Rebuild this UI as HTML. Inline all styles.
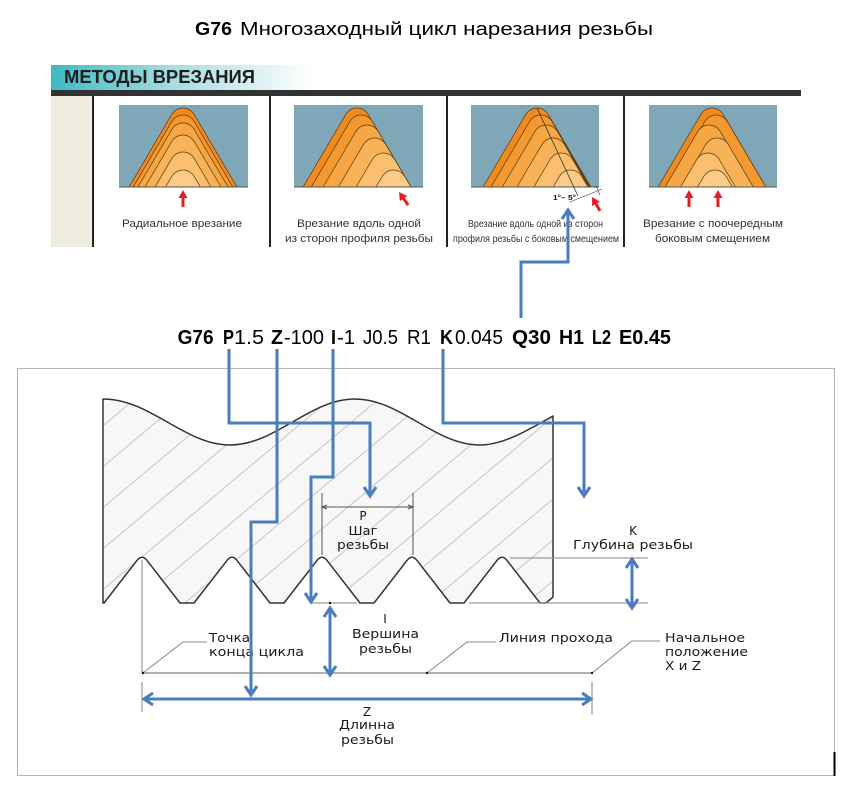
<!DOCTYPE html>
<html><head><meta charset="utf-8"><style>
html,body{margin:0;padding:0;background:#fff;}
svg{display:block;}
</style></head><body>
<svg width="868" height="795" viewBox="0 0 868 795" xmlns="http://www.w3.org/2000/svg" xmlns:xlink="http://www.w3.org/1999/xlink">
<defs>
 <linearGradient id="tg" x1="0" x2="1" y1="0" y2="0">
  <stop offset="0" stop-color="#3dbac3"/><stop offset="0.45" stop-color="#a2dbe0"/><stop offset="1" stop-color="#ffffff"/>
 </linearGradient>
 <path id="h" d="M-90 153 L-11.2 19 A13 13 0 0 1 11.2 19 L90 153 Z"/>
 <clipPath id="c1"><rect x="119" y="105" width="129" height="82"/></clipPath>
 <clipPath id="c2"><rect x="294" y="105" width="129" height="82"/></clipPath>
 <clipPath id="c3"><rect x="471" y="105" width="128" height="82"/></clipPath>
 <clipPath id="c4"><rect x="649" y="105" width="128" height="82"/></clipPath>
 <pattern id="hatch" patternUnits="userSpaceOnUse" width="20" height="31.4" patternTransform="rotate(-40) translate(0,15)">
  <rect x="0" y="0" width="20" height="1" fill="#c6c6c6"/>
 </pattern>
 <path id="bodyp" d="M 103 399 C 150.5 399 184.5 445 230 445 C 275.5 445 309.5 399 355 399 C 400.5 399 434.5 445 480 445 C 504 445 529 429.4 553 416 L 553 597 L 546 603 L 540 603 L 507 560.4 Q 502 554 497 560.4 L 464 603 L 450 603 L 417 560.4 Q 412 554 407 560.4 L 374 603 L 360 603 L 327 560.4 Q 322 554 317 560.4 L 284 603 L 270 603 L 237 560.4 Q 232 554 227 560.4 L 194 603 L 180 603 L 147 560.4 Q 142 554 137 560.4 L 104 603 L 103 603 Z"/>
</defs>

<rect width="868" height="795" fill="#fff"/>

<!-- Title -->
<text x="195" y="35" font-family="Liberation Sans, sans-serif" font-size="18" font-weight="bold" fill="#000" textLength="37" lengthAdjust="spacingAndGlyphs">G76</text>
<text x="240" y="35" font-family="Liberation Sans, sans-serif" font-size="18" fill="#000" textLength="413" lengthAdjust="spacingAndGlyphs">Многозаходный цикл нарезания резьбы</text>

<!-- Top panel -->
<rect x="51" y="65" width="260" height="25" fill="url(#tg)"/>
<text x="64" y="83" font-family="Liberation Sans, sans-serif" font-size="18" font-weight="bold" fill="#1e1e1e" textLength="191" lengthAdjust="spacingAndGlyphs">МЕТОДЫ ВРЕЗАНИЯ</text>
<rect x="51" y="90" width="750" height="6" fill="#333"/>
<rect x="51" y="96" width="42" height="151" fill="#f0ebe1"/>
<g stroke="#222" stroke-width="2">
 <line x1="93" y1="96" x2="93" y2="247"/>
 <line x1="270" y1="96" x2="270" y2="247"/>
 <line x1="447" y1="96" x2="447" y2="247"/>
 <line x1="624" y1="96" x2="624" y2="247"/>
</g>

<g fill="#7fa7b8">
 <rect x="119" y="105" width="129" height="82"/>
 <rect x="294" y="105" width="129" height="82"/>
 <rect x="471" y="105" width="128" height="82"/>
 <rect x="649" y="105" width="128" height="82"/>
</g>

<g stroke="#5b3b12" stroke-width="0.7">
 <g clip-path="url(#c1)">
  <use xlink:href="#h" transform="translate(183,95.4)" fill="#ef8a1f"/>
  <use xlink:href="#h" transform="translate(183,102.4)" fill="#f4992f"/>
  <use xlink:href="#h" transform="translate(183,110.4)" fill="#f6a743"/>
  <use xlink:href="#h" transform="translate(183,122.4)" fill="#f8b358"/>
  <use xlink:href="#h" transform="translate(183,139.4)" fill="#fabf6f"/>
  <use xlink:href="#h" transform="translate(183,157.4)" fill="#fccb88"/>
 </g>
 <g clip-path="url(#c2)">
  <use xlink:href="#h" transform="translate(357,95.4)" fill="#ef8a1f"/>
  <use xlink:href="#h" transform="translate(361.1,102.4)" fill="#f4992f"/>
  <use xlink:href="#h" transform="translate(367,112.4)" fill="#f6a743"/>
  <use xlink:href="#h" transform="translate(374.6,125.4)" fill="#f8b358"/>
  <use xlink:href="#h" transform="translate(383.5,140.4)" fill="#fabf6f"/>
  <use xlink:href="#h" transform="translate(393.5,157.4)" fill="#fccb88"/>
 </g>
 <g clip-path="url(#c3)">
  <use xlink:href="#h" transform="translate(537,95.4)" fill="#ef8a1f"/>
  <use xlink:href="#h" transform="translate(540.8,102.4)" fill="#f4992f"/>
  <use xlink:href="#h" transform="translate(546.2,112.4)" fill="#f6a743"/>
  <use xlink:href="#h" transform="translate(553.2,125.4)" fill="#f8b358"/>
  <use xlink:href="#h" transform="translate(561.3,140.4)" fill="#fabf6f"/>
  <use xlink:href="#h" transform="translate(570.5,157.4)" fill="#fccb88"/>
 </g>
 <g clip-path="url(#c4)">
  <use xlink:href="#h" transform="translate(712,95.4)" fill="#ef8a1f"/>
  <use xlink:href="#h" transform="translate(716,102.4)" fill="#f4992f"/>
  <use xlink:href="#h" transform="translate(709,112.4)" fill="#f6a743"/>
  <use xlink:href="#h" transform="translate(717,125.4)" fill="#f8b358"/>
  <use xlink:href="#h" transform="translate(708,140.4)" fill="#fabf6f"/>
  <use xlink:href="#h" transform="translate(715,157.4)" fill="#fccb88"/>
 </g>
</g>
<g stroke="#555" stroke-width="1">
 <line x1="119" y1="187" x2="248" y2="187"/>
 <line x1="294" y1="187" x2="423" y2="187"/>
 <line x1="471" y1="187" x2="599" y2="187"/>
 <line x1="649" y1="187" x2="777" y2="187"/>
</g>

<!-- box 3 annotation -->
<line x1="537" y1="108" x2="578" y2="196" stroke="#333" stroke-width="0.8"/>
<line x1="570" y1="202" x2="602" y2="189" stroke="#333" stroke-width="0.6"/>
<line x1="596" y1="186" x2="600" y2="195" stroke="#333" stroke-width="0.6"/>
<text x="553" y="200" font-family="Liberation Sans, sans-serif" font-size="7.5" font-weight="bold" fill="#111" textLength="23" lengthAdjust="spacingAndGlyphs">1°– 5°</text>

<!-- red arrows -->
<g fill="#e31e24">
 <g transform="translate(183,190)"><polygon points="-4.5,8 0,0 4.5,8"/><rect x="-1.5" y="7" width="3" height="10"/></g>
 <g transform="translate(399,192) rotate(-35)"><polygon points="-4.5,8 0,0 4.5,8"/><rect x="-1.5" y="7" width="3" height="9"/></g>
 <g transform="translate(592,197) rotate(-30)"><polygon points="-4.5,8 0,0 4.5,8"/><rect x="-1.5" y="7" width="3" height="9"/></g>
 <g transform="translate(689,190)"><polygon points="-4.5,8 0,0 4.5,8"/><rect x="-1.5" y="7" width="3" height="10"/></g>
 <g transform="translate(718,190)"><polygon points="-4.5,8 0,0 4.5,8"/><rect x="-1.5" y="7" width="3" height="10"/></g>
</g>

<!-- captions -->
<g font-family="Liberation Sans, sans-serif" font-size="11" fill="#333" text-anchor="middle">
 <text x="182" y="227" textLength="120" lengthAdjust="spacingAndGlyphs">Радиальное врезание</text>
 <text x="359" y="227" textLength="124" lengthAdjust="spacingAndGlyphs">Врезание вдоль одной</text>
 <text x="359" y="242" textLength="148" lengthAdjust="spacingAndGlyphs">из сторон профиля резьбы</text>
 <text x="535.5" y="227" font-size="10" textLength="135" lengthAdjust="spacingAndGlyphs">Врезание вдоль одной из сторон</text>
 <text x="536" y="242" font-size="10" textLength="166" lengthAdjust="spacingAndGlyphs">профиля резьбы с боковым смещением</text>
 <text x="713" y="227" textLength="140" lengthAdjust="spacingAndGlyphs">Врезание с поочередным</text>
 <text x="712.5" y="242" textLength="115" lengthAdjust="spacingAndGlyphs">боковым смещением</text>
</g>

<!-- code line -->
<g font-family="Liberation Sans, sans-serif" font-size="20" fill="#000">
 <text x="177.6" y="344" font-weight="bold" textLength="36" lengthAdjust="spacingAndGlyphs">G76</text>
 <text x="223" y="344" font-weight="bold" textLength="11" lengthAdjust="spacingAndGlyphs">P</text>
 <text x="234" y="344" textLength="30" lengthAdjust="spacingAndGlyphs">1.5</text>
 <text x="271" y="344" font-weight="bold" textLength="12" lengthAdjust="spacingAndGlyphs">Z</text>
 <text x="284" y="344" textLength="40" lengthAdjust="spacingAndGlyphs">-100</text>
 <text x="331" y="344" font-weight="bold" textLength="5" lengthAdjust="spacingAndGlyphs">I</text>
 <text x="337" y="344" textLength="18" lengthAdjust="spacingAndGlyphs">-1</text>
 <text x="363" y="344" textLength="35" lengthAdjust="spacingAndGlyphs">J0.5</text>
 <text x="407" y="344" textLength="24" lengthAdjust="spacingAndGlyphs">R1</text>
 <text x="440" y="344" font-weight="bold" textLength="13" lengthAdjust="spacingAndGlyphs">K</text>
 <text x="455" y="344" textLength="48" lengthAdjust="spacingAndGlyphs">0.045</text>
 <text x="512" y="344" font-weight="bold" textLength="39" lengthAdjust="spacingAndGlyphs">Q30</text>
 <text x="559" y="344" font-weight="bold" textLength="25" lengthAdjust="spacingAndGlyphs">H1</text>
 <text x="592" y="344" font-weight="bold" textLength="19" lengthAdjust="spacingAndGlyphs">L2</text>
 <text x="619" y="344" font-weight="bold" textLength="52" lengthAdjust="spacingAndGlyphs">E0.45</text>
</g>

<!-- lower frame -->
<rect x="17.5" y="368.5" width="817" height="407" fill="none" stroke="#b4b4b4" stroke-width="1"/>
<line x1="834.5" y1="752" x2="834.5" y2="776" stroke="#000" stroke-width="2"/>

<!-- thread body -->
<use xlink:href="#bodyp" fill="#f7f7f7"/>
<use xlink:href="#bodyp" fill="url(#hatch)"/>
<use xlink:href="#bodyp" fill="none" stroke="#333" stroke-width="1.5" stroke-linejoin="round"/>

<!-- grey extension / dimension lines -->
<g stroke="#9a9a9a" stroke-width="1.2" fill="none">
 <line x1="142" y1="560" x2="142" y2="673"/>
 <line x1="510" y1="558" x2="648" y2="558"/>
 <line x1="469" y1="603" x2="648" y2="603"/>
 <line x1="312" y1="603" x2="357" y2="603"/>
 <line x1="142" y1="682" x2="142" y2="712"/>
 <line x1="592" y1="682" x2="592" y2="715"/>
</g>
<line x1="142" y1="673" x2="592" y2="673" stroke="#b0b0b0" stroke-width="2"/>
<g stroke="#555" stroke-width="1" fill="none">
 <line x1="322" y1="493" x2="322" y2="555"/>
 <line x1="413" y1="493" x2="413" y2="555"/>
 <line x1="322" y1="507" x2="413" y2="507"/>
 <polyline points="327,505 322,507 327,509"/>
 <polyline points="408,505 413,507 408,509"/>
</g>
<g stroke="#888" stroke-width="1" fill="none">
 <polyline points="143,673 183,642 207,642"/>
 <polyline points="427,673 467,642 496,642"/>
 <polyline points="592,673 632,641 660,641"/>
</g>
<g fill="#111">
 <circle cx="143" cy="673" r="1.2"/>
 <circle cx="427" cy="673" r="1.2"/>
 <circle cx="592" cy="673" r="1.2"/>
 <circle cx="330" cy="603" r="1.2"/>
</g>

<!-- lower labels -->
<g font-family="DejaVu Sans, sans-serif" font-size="12" fill="#1a1a1a" text-anchor="middle">
 <text x="363" y="520">P</text>
 <text x="363" y="535" textLength="29" lengthAdjust="spacingAndGlyphs">Шаг</text>
 <text x="363" y="549" textLength="52" lengthAdjust="spacingAndGlyphs">резьбы</text>
 <text x="633" y="535">K</text>
 <text x="633" y="549" textLength="120" lengthAdjust="spacingAndGlyphs">Глубина резьбы</text>
 <text x="385" y="623">I</text>
 <text x="385.5" y="638" textLength="67" lengthAdjust="spacingAndGlyphs">Вершина</text>
 <text x="385.5" y="653" textLength="53" lengthAdjust="spacingAndGlyphs">резьбы</text>
 <text x="367" y="716">Z</text>
 <text x="367" y="729" textLength="56" lengthAdjust="spacingAndGlyphs">Длинна</text>
 <text x="367.5" y="744" textLength="53" lengthAdjust="spacingAndGlyphs">резьбы</text>
</g>
<g font-family="DejaVu Sans, sans-serif" font-size="12" fill="#1a1a1a">
 <text x="209" y="642" textLength="41" lengthAdjust="spacingAndGlyphs">Точка</text>
 <text x="209" y="656" textLength="95" lengthAdjust="spacingAndGlyphs">конца цикла</text>
 <text x="499" y="642" textLength="114" lengthAdjust="spacingAndGlyphs">Линия прохода</text>
 <text x="665" y="642" textLength="80" lengthAdjust="spacingAndGlyphs">Начальное</text>
 <text x="665" y="656" textLength="83" lengthAdjust="spacingAndGlyphs">положение</text>
 <text x="665" y="670" textLength="36" lengthAdjust="spacingAndGlyphs">X и Z</text>
</g>

<!-- blue connectors -->
<g stroke="#4a7dbd" stroke-width="3" fill="none" stroke-linejoin="miter">
 <polyline points="521,318 521,262 568,262 568,210"/>
 <polyline points="562,219 568,210 574,219"/>

 <polyline points="229,349 229,423 370,423 370,496"/>
 <polyline points="364,487 370,496 376,487"/>

 <polyline points="277,349 277,522 251,522 251,695"/>
 <polyline points="245,686 251,695 257,686"/>

 <polyline points="333,349 333,477 311,477 311,602"/>
 <polyline points="305,593 311,602 317,593"/>

 <polyline points="443,349 443,423 584,423 584,496"/>
 <polyline points="578,487 584,496 590,487"/>

 <line x1="632" y1="560" x2="632" y2="607"/>
 <polyline points="626,568 632,559 638,568"/>
 <polyline points="626,599 632,608 638,599"/>

 <line x1="330" y1="609" x2="330" y2="674"/>
 <polyline points="324,617 330,608 336,617"/>
 <polyline points="324,666 330,675 336,666"/>

 <line x1="145" y1="699" x2="590" y2="699"/>
 <polyline points="153,693 144,699 153,705"/>
 <polyline points="582,693 591,699 582,705"/>
</g>
</svg>
</body></html>
